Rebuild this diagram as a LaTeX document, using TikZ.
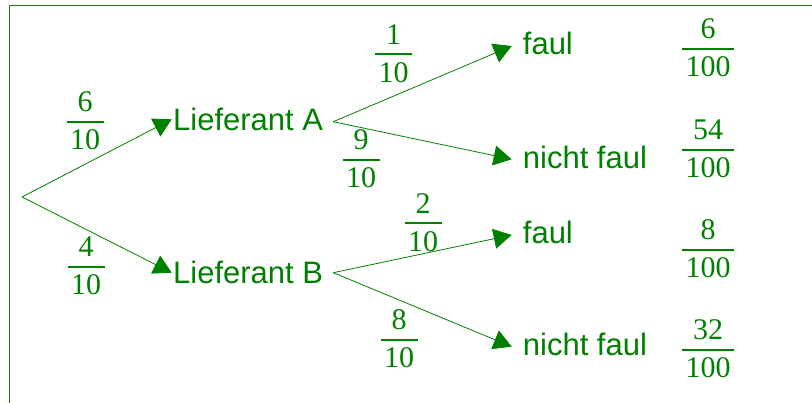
\documentclass[tikz,border=0pt]{standalone}
\usepackage{fontspec}
\setmainfont{Liberation Sans}
\newfontfamily\fracfont{Liberation Serif}
\usetikzlibrary{arrows.meta}
\definecolor{leaf}{RGB}{0,128,0}
\definecolor{framegreen}{RGB}{20,118,20}

% stacked fraction: numerator, bar, denominator (bar 3.5pt wider than the denominator on each side)
\newcommand\probfrac[2]{%
  \sbox0{#2}%
  \vbox{\offinterlineskip
    \hbox to \dimexpr\wd0+7pt\relax{\hss#1\hss}%
    \kern9pt
    \hrule height 2pt
    \kern7pt
    \hbox to \dimexpr\wd0+7pt\relax{\hss#2\hss}}}

\tikzset{
  lbl/.style={font=\fontsize{31}{37}\selectfont, inner sep=0pt, anchor=base west, text=leaf},
  frc/.style={font=\fracfont\fontsize{30}{36}\selectfont, inner sep=0pt, text=leaf},
  arr/.style={draw=leaf, line width=0.8pt, -{Triangle[length=18pt,width=20pt]}},
  edge frame/.style={draw=framegreen, line width=1.3pt},
}

\begin{document}
\begin{tikzpicture}[x=1pt, y=-1pt]
  \useasboundingbox (0,0) rectangle (812,403);
  \fill[white] (0,0) rectangle (812,403);

  % frame edges
  \draw[edge frame] (9.5,403) -- (9.5,5.3) -- (812,5.3);

  % branch points
  \coordinate (root) at (22,197);
  \coordinate (sA) at (333.3,121.7);
  \coordinate (sB) at (333.3,272.7);

  % outcome labels
  \node[lbl] (la) at (173,130.4) {Lieferant A};
  \node[lbl] (lb) at (173,283.4) {Lieferant B};
  \node[lbl] (f1) at (522.7,55) {faul};
  \node[lbl] (n1) at (522.7,168.3) {nicht faul};
  \node[lbl] (f2) at (522.7,244) {faul};
  \node[lbl] (n2) at (522.7,356) {nicht faul};

  % tree branches
  \draw[arr] (root) -- ([shift={(-1.3,-11.1)}]la.base west);
  \draw[arr] (root) -- ([shift={(-1.3,-10.7)}]lb.base west);
  \draw[arr] (sA) -- ([shift={(-11,-9)}]f1.base west);
  \draw[arr] (sA) -- ([shift={(-11,-9)}]n1.base west);
  \draw[arr] (sB) -- ([shift={(-11,-9)}]f2.base west);
  \draw[arr] (sB) -- ([shift={(-11,-9.3)}]n2.base west);

  % branch probabilities
  \node[frc] (pA)  at (85,121)    {\probfrac{6}{10}};
  \node[frc] (pB)  at (86,266)    {\probfrac{4}{10}};
  \node[frc] (pAf) at (393.7,53.3) {\probfrac{1}{10}};
  \node[frc] (pAn) at (361,159)   {\probfrac{9}{10}};
  \node[frc] (pBf) at (423,222.3) {\probfrac{2}{10}};
  \node[frc] (pBn) at (399,339)   {\probfrac{8}{10}};

  % path probabilities
  \node[frc] (r1) at (708,48)  {\probfrac{6}{100}};
  \node[frc] (r2) at (708,149) {\probfrac{54}{100}};
  \node[frc] (r3) at (708,249) {\probfrac{8}{100}};
  \node[frc] (r4) at (708,349) {\probfrac{32}{100}};
\end{tikzpicture}
\end{document}
